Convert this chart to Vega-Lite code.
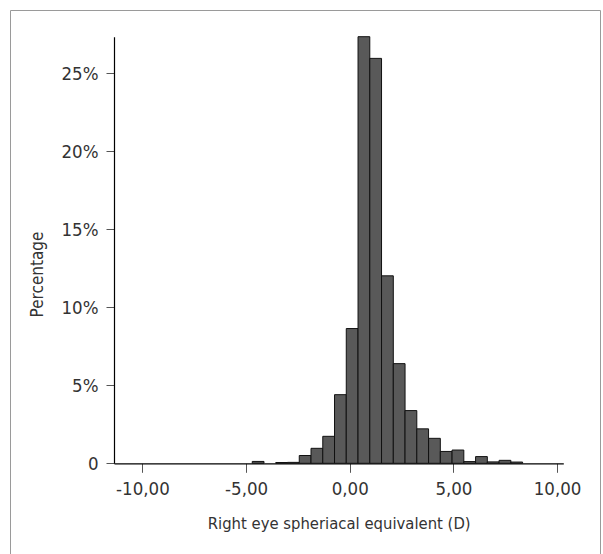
{
  "$schema": "https://vega.github.io/schema/vega-lite/v6.json",
  "autosize": {"type": "none"},
  "padding": {"left": 10, "top": 10, "right": 3, "bottom": 0},
  "width": 590,
  "height": 544,
  "background": "white",
  "config": {
    "view": {"stroke": "#9a9a9a", "strokeWidth": 1},
    "font": "DejaVu Sans Condensed, DejaVu Sans, sans-serif"
  },
  "data": {
    "values": [
      {"bin_start": -4.703, "bin_end": -4.136, "percent": 0.12},
      {"bin_start": -3.569, "bin_end": -3.002, "percent": 0.05},
      {"bin_start": -3.002, "bin_end": -2.435, "percent": 0.06},
      {"bin_start": -2.435, "bin_end": -1.868, "percent": 0.5},
      {"bin_start": -1.868, "bin_end": -1.301, "percent": 0.96},
      {"bin_start": -1.301, "bin_end": -0.734, "percent": 1.73},
      {"bin_start": -0.734, "bin_end": -0.167, "percent": 4.4},
      {"bin_start": -0.167, "bin_end": 0.4, "percent": 8.64},
      {"bin_start": 0.4, "bin_end": 0.967, "percent": 27.35},
      {"bin_start": 0.967, "bin_end": 1.534, "percent": 25.96},
      {"bin_start": 1.534, "bin_end": 2.101, "percent": 12.02},
      {"bin_start": 2.101, "bin_end": 2.668, "percent": 6.39},
      {"bin_start": 2.668, "bin_end": 3.235, "percent": 3.38},
      {"bin_start": 3.235, "bin_end": 3.802, "percent": 2.21},
      {"bin_start": 3.802, "bin_end": 4.369, "percent": 1.6},
      {"bin_start": 4.369, "bin_end": 4.936, "percent": 0.76},
      {"bin_start": 4.936, "bin_end": 5.503, "percent": 0.85},
      {"bin_start": 5.503, "bin_end": 6.07, "percent": 0.11},
      {"bin_start": 6.07, "bin_end": 6.637, "percent": 0.43},
      {"bin_start": 6.637, "bin_end": 7.204, "percent": 0.09},
      {"bin_start": 7.204, "bin_end": 7.771, "percent": 0.19},
      {"bin_start": 7.771, "bin_end": 8.338, "percent": 0.08}
    ]
  },
  "mark": {"type": "bar", "fill": "#595959", "stroke": "#111111", "strokeWidth": 1, "orient": "vertical"},
  "encoding": {
    "x": {
      "field": "bin_start",
      "type": "quantitative",
      "scale": {"domain": [-11.13, 10.06], "range": [104, 553.3], "nice": false, "zero": false},
      "axis": {
        "title": "Right eye spheriacal equivalent (D)",
        "values": [-10, -5, 0, 5, 10],
        "labelExpr": "(datum.value < 0 ? '-' : '') + replace(format(abs(datum.value), '.2f'), '.', ',')",
        "offset": -90.7,
        "grid": false,
        "domainColor": "#000000",
        "domainWidth": 1.2,
        "tickColor": "#555555",
        "tickSize": 9,
        "labelFontSize": 18.5,
        "labelColor": "#333333",
        "labelPadding": 7,
        "labelFlush": false,
        "titleFontSize": 16.5,
        "titleFontWeight": "normal",
        "titleColor": "#333333",
        "titlePadding": 18
      }
    },
    "x2": {"field": "bin_end"},
    "y": {
      "field": "percent",
      "type": "quantitative",
      "scale": {"domain": [0, 27.35], "range": [453.3, 26.7], "nice": false, "zero": true},
      "axis": {
        "title": "Percentage",
        "values": [0, 5, 10, 15, 20, 25],
        "labelExpr": "datum.value == 0 ? '0' : datum.value + '%'",
        "offset": -104,
        "grid": false,
        "domainColor": "#000000",
        "domainWidth": 1.2,
        "tickColor": "#555555",
        "tickSize": 8,
        "labelFontSize": 18.5,
        "labelColor": "#333333",
        "labelPadding": 8,
        "titleFontSize": 17,
        "titleFontWeight": "normal",
        "titleColor": "#333333",
        "titleX": -77,
        "titleY": 264,
        "titleAngle": -90,
        "titleAlign": "center",
        "titleBaseline": "middle"
      }
    },
    "y2": {"datum": 0}
  }
}
